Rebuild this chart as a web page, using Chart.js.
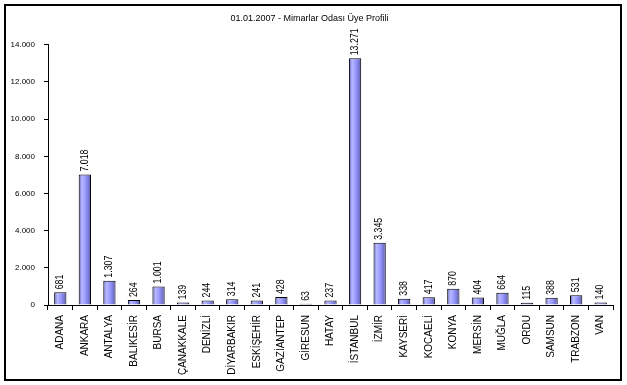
<!DOCTYPE html>
<html lang="tr">
<head>
  <meta charset="UTF-8">
  <title>Mimarlar Odası Üye Profili</title>
  <script src="https://cdn.jsdelivr.net/npm/chart.js"></script>
  <style>
    html, body { margin:0; padding:0; background:#fff; }
    #wrap { width:627px; height:385px; }
  </style>
</head>
<body>
  <div id="wrap"><canvas id="uyeChart" width="627" height="385"></canvas></div>

  <script>
    const sehirler = ['ADANA','ANKARA','ANTALYA','BALIKESİR','BURSA','ÇANAKKALE','DENİZLİ','DİYARBAKIR',
      'ESKİŞEHİR','GAZİANTEP','GİRESUN','HATAY','İSTANBUL','İZMİR','KAYSERİ','KOCAELİ','KONYA',
      'MERSİN','MUĞLA','ORDU','SAMSUN','TRABZON','VAN'];
    const uyeSayisi = [681,7018,1307,264,1001,139,244,314,241,428,63,237,13271,3345,338,417,870,404,664,115,388,531,140];
    const yTicks = [0,2000,4000,6000,8000,10000,12000,14000];

    const fontAdi = "'Liberation Sans', Arial, sans-serif";
    const noktali = v => String(Math.round(v)).replace(/\B(?=(\d{3})+(?!\d))/g, '.');

    // cerceve
    const cerceve = {
      id: 'cerceve',
      afterDraw(chart) {
        const c = chart.ctx;
        c.save();
        c.strokeStyle = '#000';
        c.lineWidth = 2;
        c.strokeRect(5, 5, 616, 375);
        c.restore();
      }
    };

    // bar ustu etiketler (dikey, biraz dar)
    const etiketler = {
      id: 'etiketler',
      afterDatasetsDraw(chart) {
        const c = chart.ctx;
        const meta = chart.getDatasetMeta(0);
        c.save();
        c.fillStyle = '#000';
        c.font = '10px ' + fontAdi;
        c.textAlign = 'left';
        c.textBaseline = 'middle';
        meta.data.forEach((bar, i) => {
          c.save();
          c.translate(bar.x, bar.y - 3);
          c.rotate(-Math.PI / 2);
          c.scale(0.88, 1);
          c.fillText(noktali(uyeSayisi[i]), 0, 0);
          c.restore();
        });
        c.restore();
      }
    };

    function barRengi(ctx) {
      const chart = ctx.chart;
      const x = chart.scales && chart.scales.x;
      if (!x || ctx.dataIndex === undefined) return '#9999ff';
      const cx = x.getPixelForValue(ctx.dataIndex);
      const w = (x.width / sehirler.length) * 0.5;
      if (!isFinite(cx) || !isFinite(w) || w <= 0) return '#9999ff';
      const g = chart.ctx.createLinearGradient(cx - w / 2, 0, cx + w / 2, 0);
      g.addColorStop(0, '#5a5ab4');
      g.addColorStop(0.25, '#b8b8ff');
      g.addColorStop(0.55, '#9999ff');
      g.addColorStop(1, '#5c5cb0');
      return g;
    }

    new Chart(document.getElementById('uyeChart'), {
      type: 'bar',
      data: {
        labels: sehirler,
        datasets: [{
          data: uyeSayisi,
          backgroundColor: barRengi,
          borderColor: '#000',
          borderWidth: 1,
          borderSkipped: 'bottom',
          barPercentage: 0.5,
          categoryPercentage: 1
        }]
      },
      options: {
        responsive: false,
        animation: false,
        layout: { padding: { left: 6, right: 14, top: 0, bottom: 0 } },
        plugins: {
          legend: { display: false },
          tooltip: { enabled: false },
          title: {
            display: true,
            text: '01.01.2007 - Mimarlar Odası Üye Profili',
            color: '#000',
            font: { family: fontAdi, size: 9, weight: 'normal', lineHeight: 1.2 },
            padding: { top: 13, bottom: 21 }
          }
        },
        scales: {
          x: {
            grid: { display: true, offset: true, drawOnChartArea: false, drawTicks: true, tickLength: 5, color: '#000' },
            border: { display: true, color: '#000', width: 1 },
            ticks: {
              color: '#000', font: { family: fontAdi, size: 10 },
              minRotation: 90, maxRotation: 90, autoSkip: false, padding: 5
            },
            afterFit(s) { s.height = 80; }
          },
          y: {
            min: 0, max: 14000,
            afterBuildTicks(s) { s.ticks = yTicks.map(v => ({ value: v })); },
            grid: { display: true, drawOnChartArea: false, drawTicks: true, tickLength: 4, color: '#000' },
            border: { display: true, color: '#000', width: 1 },
            ticks: {
              color: '#000', font: { family: fontAdi, size: 8 }, padding: 9,
              callback: v => noktali(v)
            },
            afterFit(s) { s.width = 42; }
          }
        }
      },
      plugins: [cerceve, etiketler]
    });
  </script>
</body>
</html>
